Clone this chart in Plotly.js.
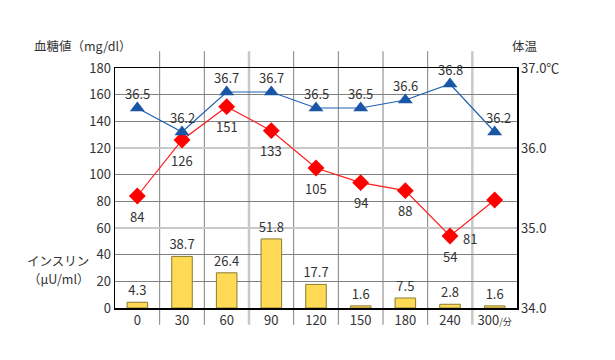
<!DOCTYPE html>
<html><head><meta charset="utf-8">
<script src="https://cdn.plot.ly/plotly-3.0.1.min.js"></script>
<style>body{margin:0;background:#fff}#c{width:615px;height:360px}</style>
</head><body><div id="c"></div>
<script>
const categories = ['0','30','60','90','120','150','180','240','300'];
const tickLabels = ['0','30','60','90','120','150','180','240','300<span style="font-size:9px">/分</span>'];
const glucose = [84,126,151,133,105,94,88,54,81];
const temperature = [36.5,36.2,36.7,36.7,36.5,36.5,36.6,36.8,36.2];
const insulin = [4.3,38.7,26.4,51.8,17.7,1.6,7.5,2.8,1.6];
const leftTicks = [0,20,40,60,80,100,120,140,160,180];
const rightTicks = [34,35,36,37];
const rightTickLabels = ['34.0','35.0','36.0','37.0℃'];

const xs = categories.map((c,i)=>i);
const font = 'Noto Sans CJK JP, sans-serif';
const txt = '#333';

const traces = [
  {type:'bar', x:xs, y:insulin, width:0.46,
   marker:{color:'#FFDA55', line:{color:'#8a7a30', width:1}},
   text:insulin.map(v=>v.toFixed(1)), textposition:'outside', cliponaxis:false, constraintext:'none',
   textfont:{family:font,size:13,color:txt}, hoverinfo:'none'},
  {type:'scatter', mode:'lines+markers', x:xs, y:glucose,
   line:{color:'#FF1A1A', width:1.2},
   marker:{symbol:'diamond', size:13, color:'#FF0000'}, hoverinfo:'none'},
  {type:'scatter', mode:'lines+markers', x:xs, y:temperature, yaxis:'y2',
   line:{color:'#2060B0', width:1.2},
   marker:{symbol:'triangle-up', size:13, color:'#1A56A6'}, hoverinfo:'none'}
];

const annotations = [];
glucose.forEach((v,i)=>{
  annotations.push({x:i, y:v, xref:'x', yref:'y', text:String(v), showarrow:false,
    yshift:(i===8?-38:-20), xshift:(i===8?-25:0), font:{family:font,size:13,color:txt}});
});
temperature.forEach((v,i)=>{
  annotations.push({x:i, y:v, xref:'x', yref:'y2', text:v.toFixed(1), showarrow:false,
    yshift:15, xshift:(i===8?4:0), font:{family:font,size:13,color:txt}});
});
annotations.push({xref:'paper', yref:'paper', x:-0.206, y:1.095, xanchor:'left', yanchor:'middle',
  text:'血糖値（mg/dl）', showarrow:false, font:{family:font,size:12.5,color:txt}});
annotations.push({xref:'paper', yref:'paper', x:0.983, y:1.095, xanchor:'left', yanchor:'middle',
  text:'体温', showarrow:false, font:{family:font,size:12.5,color:txt}});
annotations.push({xref:'paper', yref:'paper', x:-0.062, y:0.196, xanchor:'right', yanchor:'middle',
  text:'インスリン', showarrow:false, borderpad:0, font:{family:font,size:12.5,color:txt}});
annotations.push({xref:'paper', yref:'paper', x:-0.062, y:0.121, xanchor:'right', yanchor:'middle',
  text:'（μU/ml）', showarrow:false, borderpad:0, font:{family:font,size:12.5,color:txt}});

const shapes = [];
for (let k=0;k<8;k++){
  const light = (k===2 || k===7);
  shapes.push({type:'line', xref:'x', yref:'paper', x0:k+0.5, x1:k+0.5, y0:-0.07, y1:1.07,
    layer:'below', line:{color: light?'#c8c8c8':'#808080', width: light?2.5:1}});
}

const layout = {
  width:615, height:360,
  margin:{l:115, r:98, t:68, b:52},
  paper_bgcolor:'#fff', plot_bgcolor:'#fff',
  showlegend:false, bargap:0,
  font:{family:font, size:13, color:txt},
  xaxis:{range:[-0.5,8.5], tickvals:xs, ticktext:tickLabels, showgrid:false,
    showline:true, linecolor:'#000', linewidth:1.5, mirror:true, ticks:'', zeroline:false,
    tickfont:{family:font,size:13,color:txt}},
  yaxis:{range:[0,180], tickvals:leftTicks, showgrid:true, gridcolor:'#808080', gridwidth:1,
    showline:true, linecolor:'#000', linewidth:1.5, ticks:'', zeroline:false,
    tickfont:{family:font,size:13,color:txt}},
  yaxis2:{range:[34,37], tickvals:rightTicks, ticktext:rightTickLabels, overlaying:'y', side:'right',
    showgrid:true, gridcolor:'#c8c8c8', gridwidth:2.5, showline:true, linecolor:'#000', linewidth:1.5,
    ticks:'', zeroline:false, tickfont:{family:font,size:13,color:txt}},
  shapes:shapes, annotations:annotations
};
Plotly.newPlot('c', traces, layout, {staticPlot:true, displayModeBar:false});
</script></body></html>
